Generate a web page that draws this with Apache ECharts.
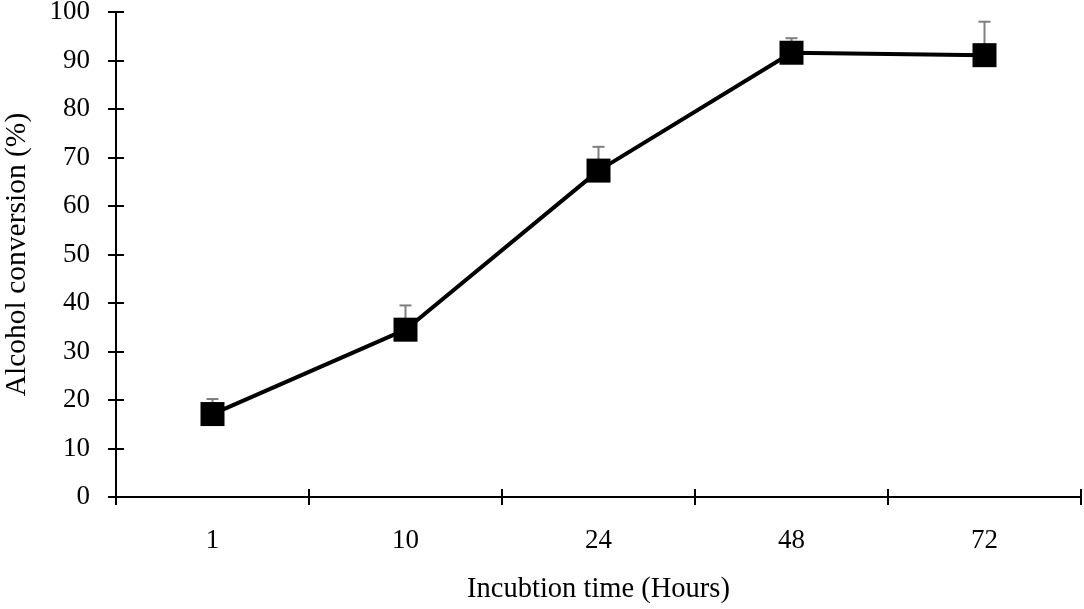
<!DOCTYPE html>
<html>
<head>
<meta charset="utf-8">
<script src="https://cdn.jsdelivr.net/npm/echarts@6/dist/echarts.min.js"></script>
<style>
  html, body { margin: 0; padding: 0; background: #fff; }
  #main { width: 1084px; height: 609px; }
</style>
</head>
<body>
<div id="main"></div>
<script>
  var hours = ['1', '10', '24', '48', '72'];
  var conversion = [17.1, 34.5, 67.3, 91.6, 91.1];
  var errUpper = [20.2, 39.5, 72.2, 94.6, 98.0];

  var font = 'Liberation Serif';
  var chart = echarts.init(document.getElementById('main'));

  // error bars drawn from the value up to the upper bound
  function renderErr(params, api) {
    var i = api.value(0);
    var lo = api.coord([i, api.value(1)]);
    var hi = api.coord([i, api.value(2)]);
    var cap = 6;
    var st = { stroke: '#7f7f7f', lineWidth: 2 };
    return {
      type: 'group',
      children: [
        { type: 'line', shape: { x1: lo[0], y1: lo[1], x2: hi[0], y2: hi[1] }, style: st },
        { type: 'line', shape: { x1: hi[0] - cap, y1: hi[1], x2: hi[0] + cap, y2: hi[1] }, style: st }
      ]
    };
  }

  var errData = [];
  for (var i = 0; i < hours.length; i++) {
    errData.push([i, conversion[i], errUpper[i]]);
  }

  var gridBox = { left: 116, right: 3, top: 12, bottom: 112, outerBoundsMode: 'none' };
  var tickStyle = { color: '#000', width: 2 };

  var option = {
    animation: false,
    textStyle: { fontFamily: font },
    // second grid only carries the inner half of the crossing ticks
    grid: [gridBox, gridBox],
    xAxis: [{
      type: 'category',
      gridIndex: 0,
      data: hours,
      boundaryGap: true,
      name: 'Incubtion time (Hours)',
      nameLocation: 'middle',
      nameGap: 78,
      nameTextStyle: { color: '#000', fontSize: 28.5, fontFamily: font },
      axisLine: { lineStyle: { color: '#000', width: 2 } },
      axisTick: { show: true, length: 8, lineStyle: tickStyle },
      axisLabel: { color: '#000', fontSize: 27, fontFamily: font, margin: 30 },
      splitLine: { show: false }
    }, {
      type: 'category',
      gridIndex: 1,
      data: hours,
      boundaryGap: true,
      axisLine: { show: false },
      axisTick: { show: true, inside: true, length: 8, lineStyle: tickStyle },
      axisLabel: { show: false },
      splitLine: { show: false }
    }],
    yAxis: [{
      type: 'value',
      gridIndex: 0,
      min: 0,
      max: 100,
      interval: 10,
      name: 'Alcohol conversion (%)',
      nameLocation: 'middle',
      nameGap: 84,
      nameTextStyle: { color: '#000', fontSize: 29.5, fontFamily: font },
      axisLine: { show: true, lineStyle: { color: '#000', width: 2 } },
      axisTick: { show: true, length: 8, lineStyle: tickStyle },
      axisLabel: { color: '#000', fontSize: 27, fontFamily: font, margin: 26 },
      splitLine: { show: false }
    }, {
      type: 'value',
      gridIndex: 1,
      min: 0,
      max: 100,
      interval: 10,
      axisLine: { show: false },
      axisTick: { show: true, inside: true, length: 8, lineStyle: tickStyle },
      axisLabel: { show: false },
      splitLine: { show: false }
    }],
    series: [{
      type: 'custom',
      renderItem: renderErr,
      data: errData,
      z: 1
    }, {
      type: 'line',
      data: conversion,
      symbol: 'rect',
      symbolSize: 24,
      lineStyle: { color: '#000', width: 4 },
      itemStyle: { color: '#000' },
      z: 3
    }]
  };
  chart.setOption(option);
</script>
</body>
</html>
